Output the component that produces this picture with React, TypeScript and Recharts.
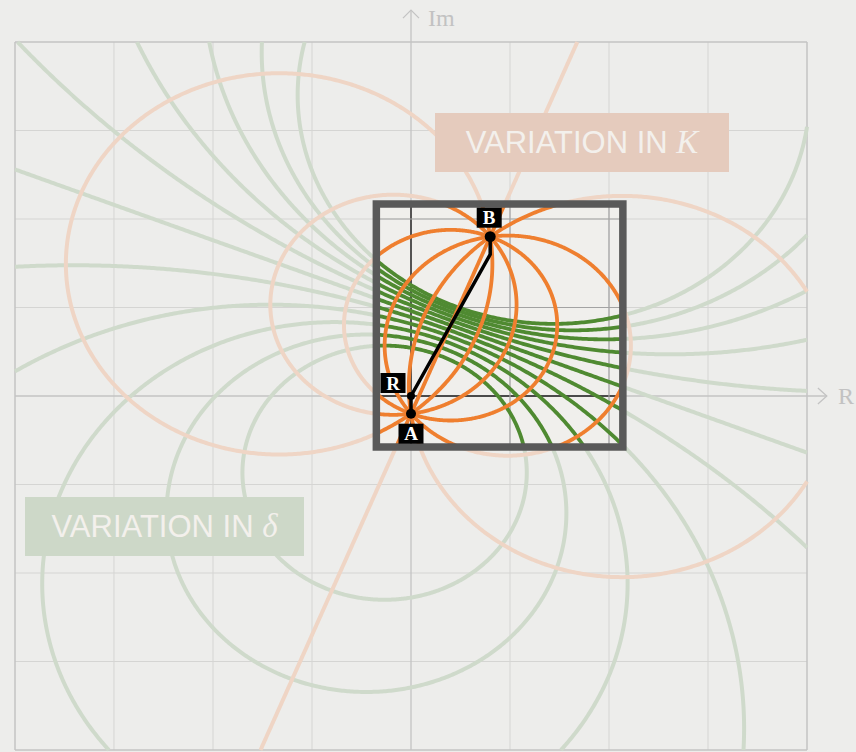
import React from 'react';
import { ComposedChart, Line, Area, Scatter, XAxis, YAxis } from 'recharts';

type Pt = { x: number; y: number };
type Box = { x0: number; x1: number; y0: number; y1: number };

// End points of every locus (K = 0 at A, K = ∞ at B) and the receiving end R
const pointA: Pt = { x: 0, y: -0.2 };
const pointB: Pt = { x: 0.8, y: 1.8 };
const markerPoints = [
  { name: 'A', x: 0, y: -0.2 },
  { name: 'B', x: 0.8, y: 1.8 },
  { name: 'R', x: 0, y: 0 },
];
// A → R → (R + jX·I) → B
const phasorPath: Pt[] = [
  { x: 0, y: -0.2 },
  { x: 0, y: 0 },
  { x: 0.8, y: 1.6 },
  { x: 0.8, y: 1.8 },
];

// Constant-K loci (δ swept): ratio |z − A| / |z − B|
const kRatios = [0.5, 0.6, 0.7, 0.8, 0.9, 1.0, 1.1, 1.2, 1.3, 1.4, 1.5];
// Constant-δ loci (K swept), degrees; 0 is the straight line through A and B
const deltaAngles = [0, 30, 60, 90, 120, 150];

const gridTicks = [-4, -3, -2, -1, 0, 1, 2, 3, 4];
const detailTicks = [0, 1, 2];
const frameBox: Box = { x0: -4, x1: 4, y0: -4, y1: 4 };
const detailBox: Box = { x0: -0.35, x1: 2.14, y0: -0.575, y1: 2.17 };

// Axis arrows
const imAxisTip = 4.36;
const reAxisTip = 4.2;
const imArrowHead: Pt[] = [
  { x: -0.081, y: 4.27 },
  { x: 0, y: 4.36 },
  { x: 0.081, y: 4.27 },
];
const reArrowHead: Pt[] = [
  { x: 4.11, y: 0.09 },
  { x: 4.2, y: 0 },
  { x: 4.11, y: -0.09 },
];

const X_DOMAIN: [number, number] = [-4.1515, 4.4949];
const Y_DOMAIN: [number, number] = [-4.0226, 4.4746];

const C = {
  bg: '#ededeb',
  grid: '#d5d5d3',
  frame: '#c3c3c3',
  fadedGreen: '#cfdacb',
  fadedOrange: '#efd5c5',
  detailFill: '#f0efec',
  detailGrid: '#a3a3a3',
  detailAxis: '#1e1e1e',
  green: '#4f8a31',
  orange: '#ef7f2f',
  border: '#595959',
  axisText: '#c2c2c2',
};

// ---- geometry of the two families of circles ----
type Locus =
  | { kind: 'circle'; cx: number; cy: number; r: number }
  | { kind: 'line'; px: number; py: number; ux: number; uy: number };

const ab = { x: pointB.x - pointA.x, y: pointB.y - pointA.y };
const abLen = Math.hypot(ab.x, ab.y);
const mid = { x: (pointA.x + pointB.x) / 2, y: (pointA.y + pointB.y) / 2 };
const normal = { x: ab.y / abLen, y: -ab.x / abLen };

function locusForRatio(k: number): Locus {
  if (Math.abs(k - 1) < 1e-9) {
    return { kind: 'line', px: mid.x, py: mid.y, ux: normal.x, uy: normal.y };
  }
  const k2 = k * k;
  return {
    kind: 'circle',
    cx: (pointA.x - k2 * pointB.x) / (1 - k2),
    cy: (pointA.y - k2 * pointB.y) / (1 - k2),
    r: (k * abLen) / Math.abs(1 - k2),
  };
}

function locusForAngle(deg: number): Locus {
  if (deg % 180 === 0) {
    return { kind: 'line', px: pointA.x, py: pointA.y, ux: ab.x / abLen, uy: ab.y / abLen };
  }
  const d = (deg * Math.PI) / 180;
  const half = abLen / 2;
  const t = half / Math.tan(d);
  return { kind: 'circle', cx: mid.x + normal.x * t, cy: mid.y + normal.y * t, r: half / Math.sin(d) };
}

function trace(l: Locus): Pt[] {
  const step = 0.02;
  const pts: Pt[] = [];
  if (l.kind === 'line') {
    for (let s = -12; s <= 12; s += step) pts.push({ x: l.px + l.ux * s, y: l.py + l.uy * s });
    return pts;
  }
  const n = Math.max(720, Math.ceil((2 * Math.PI * l.r) / step));
  for (let i = 0; i <= n; i++) {
    const a = (2 * Math.PI * i) / n;
    pts.push({ x: l.cx + l.r * Math.cos(a), y: l.cy + l.r * Math.sin(a) });
  }
  return pts;
}

// Liang–Barsky: parameter interval of segment p→q lying inside box
function insideInterval(p: Pt, q: Pt, b: Box): [number, number] | null {
  let t0 = 0;
  let t1 = 1;
  const dx = q.x - p.x;
  const dy = q.y - p.y;
  const checks: [number, number][] = [
    [-dx, p.x - b.x0],
    [dx, b.x1 - p.x],
    [-dy, p.y - b.y0],
    [dy, b.y1 - p.y],
  ];
  for (const [pp, qq] of checks) {
    if (pp === 0) {
      if (qq < 0) return null;
    } else {
      const t = qq / pp;
      if (pp < 0) {
        if (t > t1) return null;
        if (t > t0) t0 = t;
      } else {
        if (t < t0) return null;
        if (t < t1) t1 = t;
      }
    }
  }
  return [t0, t1];
}

const lerp = (p: Pt, q: Pt, t: number): Pt => ({ x: p.x + (q.x - p.x) * t, y: p.y + (q.y - p.y) * t });

function clip(runs: Pt[][], box: Box, keep: 'in' | 'out'): Pt[][] {
  const out: Pt[][] = [];
  for (const run of runs) {
    let cur: Pt[] = [];
    let open = false;
    for (let i = 1; i < run.length; i++) {
      const p = run[i - 1];
      const q = run[i];
      const iv = insideInterval(p, q, box);
      const pieces: [number, number][] = [];
      if (keep === 'in') {
        if (iv && iv[1] > iv[0]) pieces.push(iv);
      } else if (!iv || iv[1] <= iv[0]) {
        pieces.push([0, 1]);
      } else {
        if (iv[0] > 0) pieces.push([0, iv[0]]);
        if (iv[1] < 1) pieces.push([iv[1], 1]);
      }
      if (pieces.length === 0) open = false;
      for (const [a, b] of pieces) {
        const pb = lerp(p, q, b);
        if (a === 0 && open) {
          cur.push(pb);
        } else {
          if (cur.length > 1) out.push(cur);
          cur = [lerp(p, q, a), pb];
        }
        open = b === 1;
      }
    }
    if (cur.length > 1) out.push(cur);
  }
  return out;
}

// A closed circle trace may be cut at its seam; rejoin the last and first runs there
function mergeSeam(runs: Pt[][]): Pt[][] {
  if (runs.length < 2) return runs;
  const first = runs[0];
  const last = runs[runs.length - 1];
  const end = last[last.length - 1];
  if (Math.hypot(end.x - first[0].x, end.y - first[0].y) < 1e-9) {
    return [last.concat(first.slice(1)), ...runs.slice(1, -1)];
  }
  return runs;
}

const runLength = (run: Pt[]) =>
  run.reduce((s, p, i) => (i ? s + Math.hypot(p.x - run[i - 1].x, p.y - run[i - 1].y) : 0), 0);

type Row = { x: number; y: number | null };
function toSeries(runs: Pt[][]): Row[] {
  const rows: Row[] = [];
  runs.forEach((run, i) => {
    if (i > 0) rows.push({ x: run[0].x, y: null });
    run.forEach((p) => rows.push(p));
  });
  return rows;
}

// Faded part: inside the frame, outside the detail window; stray corner slivers are left out
const backgroundPart = (l: Locus) => {
  const inFrame = mergeSeam(clip([trace(l)], frameBox, 'in'));
  const outside = mergeSeam(clip(inFrame, detailBox, 'out'));
  return toSeries(outside.filter((r) => runLength(r) > 0.35));
};
const detailPart = (l: Locus) => toSeries(mergeSeam(clip([trace(l)], detailBox, 'in')));

const ratioLoci = kRatios.map(locusForRatio);
const angleLoci = deltaAngles.map(locusForAngle);

const segment = (a: Pt, b: Pt): Row[] => [a, b];

const detailFillData = [
  { x: detailBox.x0, band: [detailBox.y0, detailBox.y1] },
  { x: detailBox.x1, band: [detailBox.y0, detailBox.y1] },
];
const midTop = (detailBox.x0 + detailBox.x1) / 2;
const detailOutline: Pt[] = [
  { x: midTop, y: detailBox.y1 },
  { x: detailBox.x1, y: detailBox.y1 },
  { x: detailBox.x1, y: detailBox.y0 },
  { x: detailBox.x0, y: detailBox.y0 },
  { x: detailBox.x0, y: detailBox.y1 },
  { x: midTop, y: detailBox.y1 },
];

const markerStyle: Record<string, { r: number; dx: number; dy: number }> = {
  A: { r: 5, dx: 0, dy: 20 },
  B: { r: 5.5, dx: -1, dy: -19 },
  R: { r: 4, dx: -18, dy: -13 },
};

const renderMarker = (props: any) => {
  const { cx, cy, payload } = props;
  const st = markerStyle[payload.name];
  return (
    <g>
      <circle cx={cx} cy={cy} r={st.r} fill="#000" />
      <rect x={cx + st.dx - 12.5} y={cy + st.dy - 10} width={25} height={20} fill="#000" />
      <text
        x={cx + st.dx}
        y={cy + st.dy + 6.5}
        textAnchor="middle"
        fill="#fff"
        fontFamily="'Liberation Serif', 'DejaVu Serif', serif"
        fontWeight="bold"
        fontSize={19}
      >
        {payload.name}
      </text>
    </g>
  );
};

const common = { dataKey: 'y', dot: false, activeDot: false, isAnimationActive: false, type: 'linear' as const };

const labelBox: React.CSSProperties = {
  position: 'absolute',
  height: 59,
  display: 'flex',
  alignItems: 'center',
  justifyContent: 'center',
  color: '#f3f0ec',
  fontFamily: "'Liberation Sans', Arial, sans-serif",
  fontSize: 31,
  whiteSpace: 'pre',
};
const italicSerif: React.CSSProperties = {
  fontFamily: "'Liberation Serif', 'DejaVu Serif', serif",
  fontStyle: 'italic',
  fontSize: 33,
};

export default function App() {
  return (
    <div style={{ position: 'absolute', left: 0, top: 0, width: 856, height: 752, background: C.bg, overflow: 'hidden' }}>
      <ComposedChart width={856} height={752} margin={{ top: 0, right: 0, bottom: 0, left: 0 }}>
        <XAxis type="number" dataKey="x" domain={X_DOMAIN} allowDataOverflow hide />
        <YAxis type="number" dataKey="y" domain={Y_DOMAIN} allowDataOverflow hide />

        {/* background grid */}
        {gridTicks
          .filter((t) => t !== 0 && Math.abs(t) !== 4)
          .flatMap((t) => [
            <Line key={`gv${t}`} {...common} data={segment({ x: t, y: -4 }, { x: t, y: 4 })} stroke={C.grid} strokeWidth={1} />,
            <Line key={`gh${t}`} {...common} data={segment({ x: -4, y: t }, { x: 4, y: t })} stroke={C.grid} strokeWidth={1} />,
          ])}
        {[-4, 4].flatMap((t) => [
          <Line key={`fv${t}`} {...common} data={segment({ x: t, y: -4 }, { x: t, y: 4 })} stroke={C.frame} strokeWidth={1.5} />,
          <Line key={`fh${t}`} {...common} data={segment({ x: -4, y: t }, { x: 4, y: t })} stroke={C.frame} strokeWidth={1.5} />,
        ])}
        <Line {...common} data={segment({ x: 0, y: -4 }, { x: 0, y: imAxisTip })} stroke={C.frame} strokeWidth={1.3} />
        <Line {...common} data={segment({ x: -4, y: 0 }, { x: reAxisTip, y: 0 })} stroke={C.frame} strokeWidth={1.3} />
        <Line {...common} data={imArrowHead} stroke={C.frame} strokeWidth={1.3} />
        <Line {...common} data={reArrowHead} stroke={C.frame} strokeWidth={1.3} />

        {/* full loci, faded */}
        {ratioLoci.map((l, i) => (
          <Line key={`bg-k${i}`} {...common} data={backgroundPart(l)} stroke={C.fadedGreen} strokeWidth={4} />
        ))}
        {angleLoci.map((l, i) => (
          <Line key={`bg-d${i}`} {...common} data={backgroundPart(l)} stroke={C.fadedOrange} strokeWidth={4} />
        ))}

        {/* detail window */}
        <Area
          dataKey="band"
          data={detailFillData}
          type="linear"
          fill={C.detailFill}
          fillOpacity={1}
          stroke="none"
          dot={false}
          activeDot={false}
          isAnimationActive={false}
        />
        {detailTicks.flatMap((t) => [
          <Line
            key={`dv${t}`}
            {...common}
            data={segment({ x: t, y: detailBox.y0 }, { x: t, y: detailBox.y1 })}
            stroke={t === 0 ? C.detailAxis : C.detailGrid}
            strokeWidth={t === 0 ? 1.4 : 1.2}
          />,
          <Line
            key={`dh${t}`}
            {...common}
            data={segment({ x: detailBox.x0, y: t }, { x: detailBox.x1, y: t })}
            stroke={t === 0 ? C.detailAxis : C.detailGrid}
            strokeWidth={t === 0 ? 1.4 : 1.2}
          />,
        ])}
        {ratioLoci.map((l, i) => (
          <Line key={`fg-k${i}`} {...common} data={detailPart(l)} stroke={C.green} strokeWidth={3.8} />
        ))}
        {angleLoci.map((l, i) => (
          <Line key={`fg-d${i}`} {...common} data={detailPart(l)} stroke={C.orange} strokeWidth={3.8} />
        ))}
        <Line {...common} data={detailOutline} stroke={C.border} strokeWidth={7.5} strokeLinejoin="miter" />

        {/* phasors and points */}
        <Line {...common} data={phasorPath} stroke="#000" strokeWidth={3.5} strokeLinejoin="round" />
        <Scatter data={markerPoints} dataKey="y" shape={renderMarker} isAnimationActive={false} />
      </ComposedChart>

      <div style={{ ...labelBox, left: 435, top: 113, width: 294, background: '#e5cbbd' }}>
        {'VARIATION IN '}
        <span style={italicSerif}>K</span>
      </div>
      <div style={{ ...labelBox, left: 25, top: 497, width: 279, background: '#cdd8c8' }}>
        {'VARIATION IN '}
        <span style={italicSerif}>δ</span>
      </div>

      <div
        style={{
          position: 'absolute',
          left: 428,
          top: 6,
          fontFamily: "'Liberation Serif', serif",
          fontSize: 24,
          lineHeight: '24px',
          color: C.axisText,
        }}
      >
        Im
      </div>
      <div
        style={{
          position: 'absolute',
          left: 838,
          top: 384,
          fontFamily: "'Liberation Serif', serif",
          fontSize: 24,
          lineHeight: '24px',
          color: C.axisText,
        }}
      >
        R
      </div>
    </div>
  );
}
